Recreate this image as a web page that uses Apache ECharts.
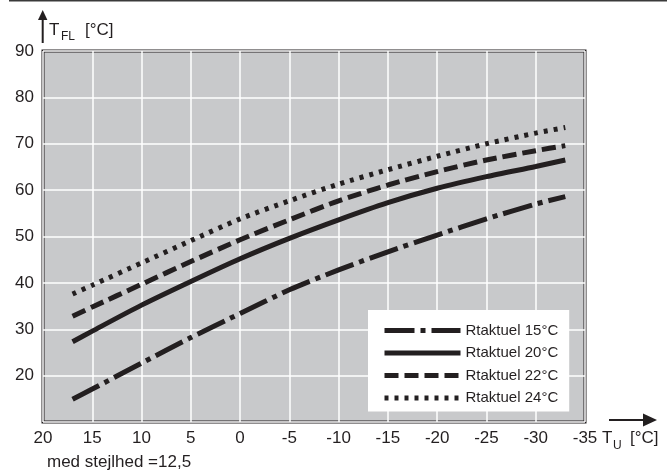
<!DOCTYPE html>
<html>
<head>
<meta charset="utf-8">
<script src="https://cdn.jsdelivr.net/npm/echarts@6/dist/echarts.min.js"></script>
<style>
  html, body { margin: 0; padding: 0; background: #fff; }
  #chart { width: 667px; height: 475px; }
</style>
</head>
<body>
<div id="chart"></div>
<script>
// udetemperatur (x-akse, omvendt)
const outdoorTemps = [17, 15, 10, 5, 0, -5, -10, -15, -20, -25, -30, -33];

// fremløbstemperatur pr. kurve
const rt15 = [14.9, 17.1, 22.7, 28.2, 33.4, 38.5, 42.8, 46.7, 50.3, 53.8, 57.0, 58.6];
const rt20 = [27.3, 29.6, 35.2, 40.3, 45.2, 49.6, 53.6, 57.3, 60.4, 62.9, 65.1, 66.5];
const rt22 = [32.8, 34.8, 39.7, 44.6, 49.3, 53.6, 57.7, 61.1, 64.0, 66.5, 68.5, 69.6];
const rt24 = [37.6, 39.5, 44.3, 49.1, 53.8, 57.7, 61.3, 64.4, 67.3, 70.0, 72.3, 73.5];

const seriesNames = ["Rtaktuel 15°C", "Rtaktuel 20°C", "Rtaktuel 22°C", "Rtaktuel 24°C"];
const xTicks = [20, 15, 10, 5, 0, -5, -10, -15, -20, -25, -30, -35];
const yTicks = [20, 30, 40, 50, 60, 70, 80, 90];

const ink = "#231f20";
const font = "'Liberation Sans', Arial, Helvetica, sans-serif";

// streg-typer: stiplet-prikket, fuld, stiplet, prikket
const dashes = [[30, 6, 5, 6], "solid", [14, 6], [4, 6]];

const pairs = (ys) => outdoorTemps.map((t, i) => [t, ys[i]]);

const chart = echarts.init(document.getElementById("chart"), null, {renderer: "canvas"});

const options = {
  animation: false,
  grid: {
    left: 43, right: 82, top: 51, bottom: 53,
    show: true,
    backgroundColor: "#c8c9cb",
    borderColor: ink,
    borderWidth: 3,
  },
  xAxis: {
    type: "value",
    inverse: true,
    min: -35, max: 20, interval: 5,
    axisLine: {show: false},
    axisTick: {show: false},
    splitLine: {show: true, lineStyle: {color: "#ffffff", width: 1.5}},
    axisLabel: {
      color: ink, fontSize: 17, fontFamily: font, margin: 8,
      formatter: (v) => (xTicks.includes(v) ? String(v) : ""),
    },
  },
  yAxis: {
    type: "value",
    min: 10, max: 90, interval: 10,
    axisLine: {show: false},
    axisTick: {show: false},
    splitLine: {show: true, lineStyle: {color: "#ffffff", width: 1.5}},
    axisLabel: {
      color: ink, fontSize: 17, fontFamily: font, margin: 9,
      formatter: (v) => (yTicks.includes(v) ? String(v) : ""),
    },
  },
  legend: {
    orient: "vertical",
    left: 368, top: 310,
    backgroundColor: "#ffffff",
    padding: [13, 11, 6, 14],
    itemWidth: 76, itemHeight: 14, itemGap: 7.5,
    itemStyle: {opacity: 0, borderWidth: 0},
    lineStyle: {width: 5},
    textStyle: {color: ink, fontSize: 15, fontFamily: font, lineHeight: 14},
    data: seriesNames,
  },
  series: [rt15, rt20, rt22, rt24].map((ys, i) => ({
    name: seriesNames[i],
    type: "line",
    smooth: 0.25,
    symbol: "none",
    showSymbol: false,
    data: pairs(ys),
    itemStyle: {color: ink},
    lineStyle: {color: ink, width: 5, type: dashes[i], cap: "butt"},
  })),
  graphic: [
    // linje øverst
    {type: "line", shape: {x1: 9, y1: 0.8, x2: 667, y2: 0.8}, style: {stroke: "#3a3a3a", lineWidth: 1.6}},
    // y-pil
    {type: "line", shape: {x1: 42.7, y1: 43, x2: 42.7, y2: 19}, style: {stroke: ink, lineWidth: 2}},
    {type: "polygon", shape: {points: [[42.7, 10], [38, 20], [47.4, 20]]}, style: {fill: ink}},
    {type: "text", left: 49, top: 22, style: {text: "T", fill: ink, font: "17px " + font}},
    {type: "text", left: 61, top: 31, style: {text: "FL", fill: ink, font: "12px " + font}},
    {type: "text", left: 85, top: 22, style: {text: "[°C]", fill: ink, font: "17px " + font}},
    // x-pil
    {type: "line", shape: {x1: 609, y1: 420, x2: 645, y2: 420}, style: {stroke: ink, lineWidth: 2}},
    {type: "polygon", shape: {points: [[657, 420], [643, 413.5], [643, 426.5]]}, style: {fill: ink}},
    {type: "text", left: 602, top: 430, style: {text: "T", fill: ink, font: "17px " + font}},
    {type: "text", left: 613, top: 440, style: {text: "U", fill: ink, font: "12px " + font}},
    {type: "text", left: 630, top: 430, style: {text: "[°C]", fill: ink, font: "17px " + font}},
    // stejlhed
    {type: "text", left: 47, top: 454, style: {text: "med stejlhed =12,5", fill: ink, font: "17px " + font}},
  ],
};

chart.setOption(options);
</script>
</body>
</html>
